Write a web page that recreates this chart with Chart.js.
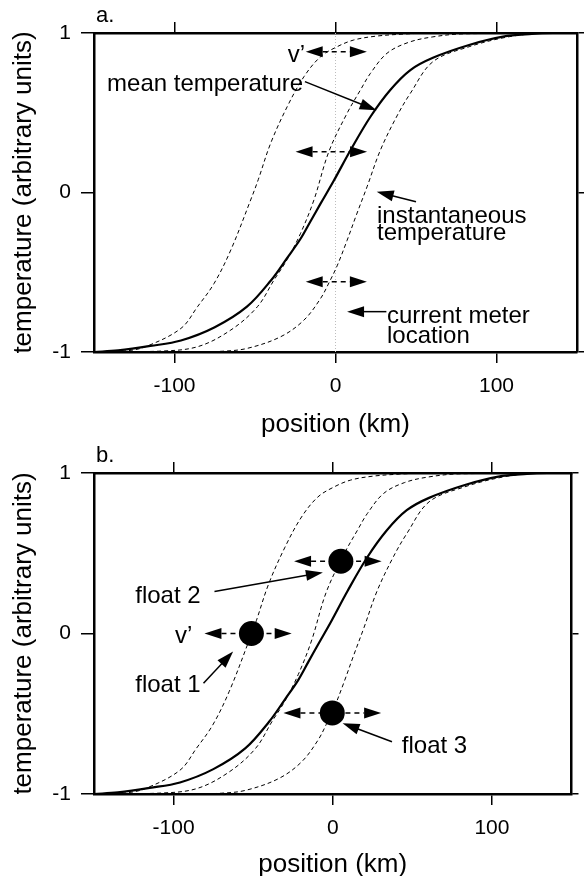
<!DOCTYPE html>
<html><head><meta charset="utf-8">
<script src="https://cdn.jsdelivr.net/npm/chart.js@4.4.1/dist/chart.umd.min.js"></script>
<style>
html,body{margin:0;padding:0;background:#fff;}
#wrap{position:relative;width:584px;height:876px;overflow:hidden;background:#fff;}
canvas{position:absolute;left:0;}
</style></head><body>
<div id="wrap">
<canvas id="ca" width="584" height="441" style="top:0px"></canvas>
<canvas id="cb" width="584" height="439" style="top:441px"></canvas>
</div>
<script>
// ---- tick labels ----
const xTicks = [-100, 0, 100];
const yTicks = [-1, 0, 1];

// ---- mean temperature (solid) ----
const meanX = [-150, -135, -115, -96, -75, -55, -40, -30, -21.7, -15.5, -9.3, -1, 9.3, 21.7, 34, 46.5, 60.5, 83, 104, 122, 135, 150];
const meanY = [-1.0, -0.99, -0.962, -0.928, -0.845, -0.716, -0.55, -0.41, -0.29, -0.18, -0.07, 0.075, 0.265, 0.475, 0.643, 0.768, 0.845, 0.925, 0.977, 0.994, 1.0, 1.0];

// ---- instantaneous temperature profiles (dashed) ----
const leftX = [-150, -130, -118, -96, -85.7, -75.4, -65, -52.7, -48, -40.3, -30, -19.6, -9.3, 1, 11.3, 25, 42, 60, 150];
const leftY = [-1, -0.993, -0.967, -0.852, -0.716, -0.57, -0.36, -0.047, 0.08, 0.308, 0.538, 0.726, 0.851, 0.914, 0.956, 0.98, 0.993, 1.0, 1.0];

const midX = [-150, -110, -85.7, -65, -48.5, -38.2, -30, -21.7, -13.4, -4.1, 7.2, 15.5, 21.7, 32, 45, 60, 80, 150];
const midY = [-1, -0.995, -0.967, -0.862, -0.716, -0.549, -0.42, -0.256, -0.047, 0.257, 0.497, 0.643, 0.747, 0.873, 0.94, 0.975, 0.995, 1];

const rightX = [-150, -90, -70, -54.7, -34, -19.6, -9.3, -4, 1, 7.2, 13, 19.6, 27.9, 38.2, 46.5, 60.5, 83, 108, 130, 150];
const rightY = [-1, -1, -0.995, -0.977, -0.904, -0.8, -0.665, -0.565, -0.46, -0.3, -0.14, 0.036, 0.266, 0.48, 0.622, 0.82, 0.914, 0.977, 1, 1];

// ---- current meter location ----
const meterX = [0, 0];
const meterY = [-1, 1];

// ---- floats (panel b) ----
const floatX = [-51.1, 5.1, -0.3];
const floatY = [0.0, 0.45, -0.495];

// ---- annotations (data units) ----
const annotA = {
  label: 'a.',
  pairs: [{cx: 0.5, y: 0.883, hw: 19}, {cx: -2.6, y: 0.256, hw: 22.2}, {cx: 0.5, y: -0.559, hw: 19}],
  arrows: [{x1: -19, y1: 0.695, x2: 25.5, y2: 0.515}, {x1: 50, y1: -0.058, x2: 25.6, y2: 0.005}, {x1: 31.6, y1: -0.747, x2: 7.2, y2: -0.747}],
  texts: [
    {t: 'v\u2019', x: -29.7, y: 0.82},
    {t: 'mean temperature', x: -141.9, y: 0.636},
    {t: 'instantaneous', x: 25.8, y: -0.19},
    {t: 'temperature', x: 25.8, y: -0.30},
    {t: 'current meter', x: 32, y: -0.82},
    {t: 'location', x: 32, y: -0.942}
  ]
};
const annotB = {
  label: 'b.',
  pairs: [{cx: 3.2, y: 0.45, hw: 27.5}, {cx: -53.2, y: 0, hw: 27.4}, {cx: -0.3, y: -0.495, hw: 30.7}],
  arrows: [{x1: -74.3, y1: 0.262, x2: -6.2, y2: 0.38}, {x1: -81.2, y1: -0.31, x2: -62.6, y2: -0.112}, {x1: 37.2, y1: -0.674, x2: 6.2, y2: -0.559}],
  texts: [
    {t: 'float 2', x: -124.1, y: 0.188},
    {t: 'float 1', x: -124.1, y: -0.363},
    {t: 'float 3', x: 43.4, y: -0.746},
    {t: 'v\u2019', x: -99.1, y: -0.059}
  ]
};

const FONT = "'Liberation Sans', Arial, Helvetica, sans-serif";
const zip = (xs, ys) => xs.map((x, i) => ({x: x, y: ys[i]}));

function annotPlugin(a) {
  const HL = 17, HW = 5.5;
  function head(ctx, tx, ty, ang) {
    ctx.beginPath();
    ctx.moveTo(tx, ty);
    ctx.lineTo(tx - HL * Math.cos(ang) - HW * Math.sin(ang), ty - HL * Math.sin(ang) + HW * Math.cos(ang));
    ctx.lineTo(tx - HL * Math.cos(ang) + HW * Math.sin(ang), ty - HL * Math.sin(ang) - HW * Math.cos(ang));
    ctx.closePath();
    ctx.fill();
  }
  return {
    id: 'annot',
    afterDatasetsDraw(chart) {
      const ctx = chart.ctx, xs = chart.scales.x, ys = chart.scales.y;
      const X = v => xs.getPixelForValue(v), Y = v => ys.getPixelForValue(v);
      ctx.save();
      ctx.fillStyle = '#000'; ctx.strokeStyle = '#000';
      a.pairs.forEach(p => {
        const L = X(p.cx - p.hw), R = X(p.cx + p.hw), y = Y(p.y);
        head(ctx, L, y, Math.PI);
        head(ctx, R, y, 0);
        ctx.setLineDash([5, 4]); ctx.lineWidth = 1.5;
        ctx.beginPath(); ctx.moveTo(L + HL, y); ctx.lineTo(R - HL, y); ctx.stroke();
        ctx.setLineDash([]);
      });
      a.arrows.forEach(r => {
        const x1 = X(r.x1), y1 = Y(r.y1), x2 = X(r.x2), y2 = Y(r.y2);
        const ang = Math.atan2(y2 - y1, x2 - x1);
        ctx.lineWidth = 1.5;
        ctx.beginPath(); ctx.moveTo(x1, y1);
        ctx.lineTo(x2 - (HL - 2) * Math.cos(ang), y2 - (HL - 2) * Math.sin(ang)); ctx.stroke();
        head(ctx, x2, y2, ang);
      });
      ctx.font = '24px ' + FONT;
      ctx.textAlign = 'left'; ctx.textBaseline = 'alphabetic';
      a.texts.forEach(t => ctx.fillText(t.t, X(t.x), Y(t.y)));
      ctx.font = '22px ' + FONT;
      ctx.fillText(a.label, chart.chartArea.left + 2, chart.chartArea.top - 11);
      ctx.restore();
    }
  };
}

function makeChart(id, datasets, cfg) {
  const gridOpts = (len) => ({drawOnChartArea: false, drawTicks: true, tickLength: len, tickWidth: 1.5, tickColor: '#000', lineWidth: 1.5, color: '#000'});
  const borderOpts = {display: true, width: 2.5, color: '#000'};
  const setX = s => { s.ticks = xTicks.map(v => ({value: v})); };
  const setY = s => { s.ticks = yTicks.map(v => ({value: v})); };
  return new Chart(document.getElementById(id), {
    type: 'line',
    data: {datasets: datasets},
    options: {
      responsive: false, animation: false, devicePixelRatio: 1,
      layout: {padding: 0},
      plugins: {legend: {display: false}, tooltip: {enabled: false}, title: {display: false}},
      elements: {point: {radius: 0}, line: {tension: 0.35, cubicInterpolationMode: 'default'}},
      scales: {
        x: {type: 'linear', position: 'bottom', min: -150, max: 150, afterBuildTicks: setX,
            ticks: {font: {family: FONT, size: 21}, color: '#000', padding: 11, maxRotation: 0, autoSkip: false},
            grid: gridOpts(11), border: borderOpts,
            title: {display: true, text: 'position (km)', font: {family: FONT, size: 26}, color: '#000', padding: {top: 0, bottom: cfg.titlePadB}},
            afterFit: s => { s.height = cfg.bottomH; }},
        xTop: {type: 'linear', position: 'top', min: -150, max: 150, afterBuildTicks: setX,
            ticks: {display: false}, grid: gridOpts(11), border: borderOpts,
            afterFit: s => { s.height = cfg.topH; }},
        y: {type: 'linear', position: 'left', min: -1, max: 1, afterBuildTicks: setY,
            ticks: {font: {family: FONT, size: 21}, color: '#000', padding: 10},
            grid: gridOpts(13), border: borderOpts,
            title: {display: true, text: 'temperature (arbitrary units)', font: {family: FONT, size: 26}, color: '#000', padding: {top: 8, bottom: 0}},
            afterFit: s => { s.width = 94; }},
        yRight: {type: 'linear', position: 'right', min: -1, max: 1, afterBuildTicks: setY,
            ticks: {display: false}, grid: gridOpts(7), border: borderOpts,
            afterFit: s => { s.width = 7; }}
      }
    },
    plugins: [annotPlugin(cfg.annot)]
  });
}

const dashed = (xs, ys) => ({data: zip(xs, ys), borderColor: '#000', borderWidth: 1, borderDash: [4, 3], pointRadius: 0, fill: false});
const solid = () => ({data: zip(meanX, meanY), borderColor: '#000', borderWidth: 2.2, pointRadius: 0, fill: false});

makeChart('ca', [
  solid(),
  dashed(leftX, leftY), dashed(midX, midY), dashed(rightX, rightY),
  {data: zip(meterX, meterY), borderColor: '#bdbdbd', borderWidth: 1, borderDash: [1, 2], pointRadius: 0, tension: 0}
], {bottomH: 89, topH: 33, titlePadB: 1, annot: annotA});

makeChart('cb', [
  {data: zip(floatX, floatY), showLine: false, pointRadius: 12.5, pointHoverRadius: 12.5, pointBackgroundColor: '#000', pointBorderWidth: 0, borderColor: '#000'},
  solid(),
  dashed(leftX, leftY), dashed(midX, midY), dashed(rightX, rightY)
], {bottomH: 86, topH: 32, titlePadB: 0, annot: annotB});
</script>
</body></html>
